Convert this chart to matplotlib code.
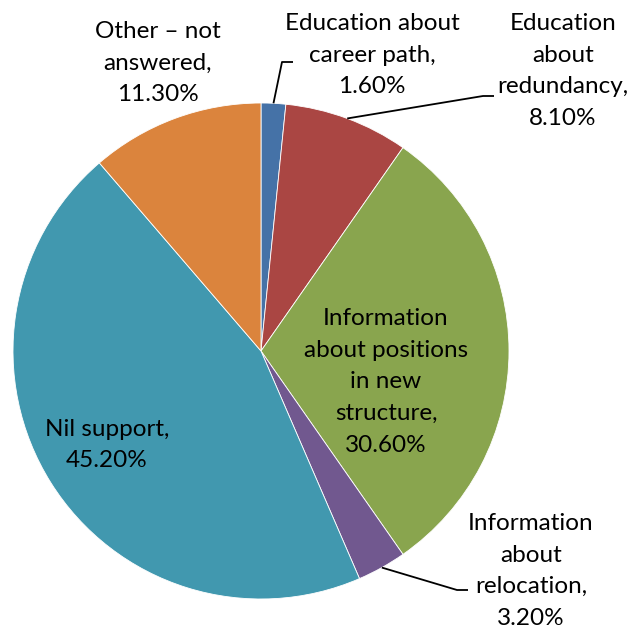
import numpy as np
import matplotlib.pyplot as plt

labels = ["Education about\ncareer path,", "Education\nabout\nredundancy,",
          "Information\nabout positions\nin new\nstructure,", "Information\nabout\nrelocation,",
          "Nil support,", "Other \u2013 not\nanswered,"]
values = [1.6, 8.1, 30.6, 3.2, 45.2, 11.3]
colors = ["#4572A7", "#AA4643", "#89A54E", "#71588F", "#4198AF", "#DB843D"]

plt.rcParams['font.family'] = ['Lato', 'DejaVu Sans']

W, H = 632, 633
fig = plt.figure(figsize=(W / 100, H / 100), dpi=100)
ax = fig.add_axes([0, 0, 1, 1])

cx, cy, r = 261, H - 351, 248
ax.pie(values, colors=colors, startangle=90, counterclock=False,
       center=(cx, cy), radius=r, frame=True,
       wedgeprops=dict(linewidth=0.6, edgecolor='white'))
ax.set_xlim(0, W)
ax.set_ylim(0, H)
ax.set_aspect('equal')
ax.axis('off')

# label layout: text centre (x, y from top), elbow point of leader (or None)
layout = [
    ((372, 55), (282, 62)),
    ((563, 71), (483, 96)),
    ((386, 382), None),
    ((531, 571), (457, 590)),
    ((107, 445), None),
    ((158, 63), None),
]

cum = np.cumsum([0] + values[:-1])
for lab, v, c0, ((tx, ty), elbow) in zip(labels, values, cum, layout):
    txt = "%s\n%.2f%%" % (lab, v)
    ax.text(tx, H - ty, txt, ha='center', va='center', fontsize=17.5,
            linespacing=1.62, color='black')
    if elbow is not None:
        ang = np.deg2rad(90 - (c0 + v / 2) * 3.6)
        x0, y0 = cx + r * np.cos(ang), cy + r * np.sin(ang)
        ex, ey = elbow
        ax.plot([x0, ex, ex + 11], [y0, H - ey, H - ey], color='black', lw=1.3,
                solid_capstyle='butt')

fig.savefig("out.png", dpi=100)
